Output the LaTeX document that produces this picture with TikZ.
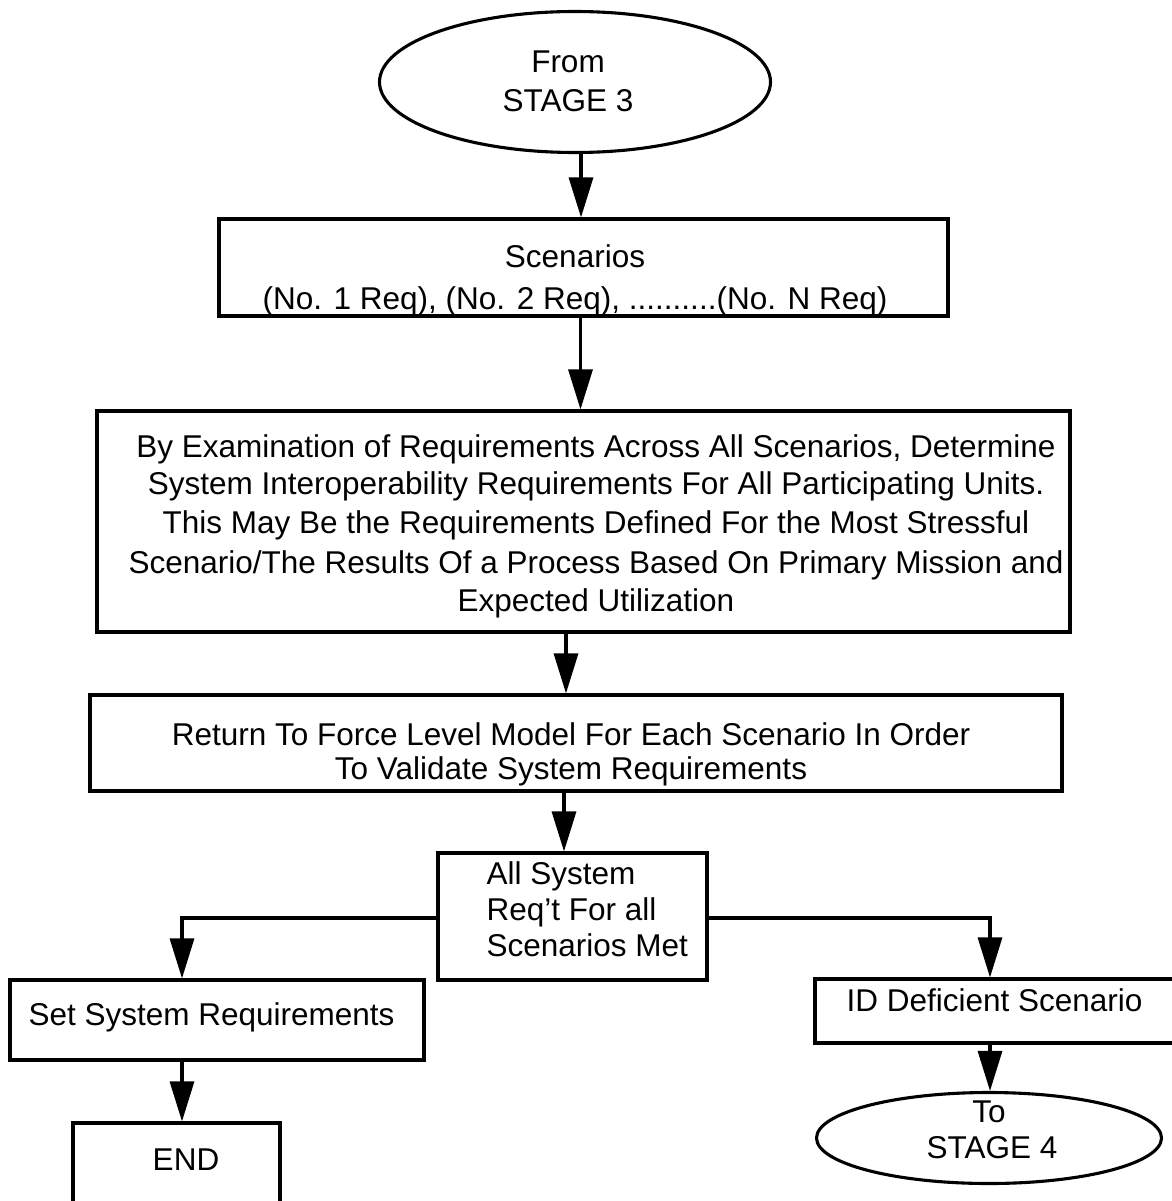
\documentclass[tikz,border=0pt]{standalone}
\usepackage{fontspec}
\setmainfont{Liberation Sans}
\usetikzlibrary{arrows.meta,shapes.geometric}

\begin{document}
\begin{tikzpicture}[x=1pt,y=-1pt,
  line width=3.1pt,
  box/.style={draw, rectangle, inner sep=0pt},
  term/.style={draw, ellipse, inner sep=0pt},
  txt/.style={inner sep=0pt, anchor=base, font=\fontsize{31.5}{38}\selectfont},
  txtl/.style={txt, anchor=base west},
  arr/.style={-{Triangle[length=40pt,width=24pt]}}]
\useasboundingbox (0,0) rectangle (1171,1201);

% terminals
\node[term, minimum width=391pt, minimum height=141pt] (start) at (575,82) {};
\node[txt] (start-1) at (568,73) {From};
\node[txt] (start-2) at (568,112) {STAGE 3};

\node[term, minimum width=345pt, minimum height=91pt] (st4) at (989,1138) {};
\node[txt] (st4-1) at (989,1122) {To};
\node[txt] (st4-2) at (992,1158) {STAGE 4};

% process boxes
\node[box, minimum width=729pt, minimum height=97pt] (scen) at (583.5,267.5) {};
\node[txt] (scen-1) at (575,267) {Scenarios};
\node[txt] (scen-2) at (575,309) {(No. 1 Req), (No. 2 Req), ..........(No. N Req)};

\node[box, minimum width=973pt, minimum height=221pt] (exam) at (583.5,521.5) {};
\node[txt] (exam-1) at (596,457) {By Examination of Requirements Across All Scenarios, Determine};
\node[txt] (exam-2) at (596,494) {System Interoperability Requirements For All Participating Units.};
\node[txt] (exam-3) at (596,533) {This May Be the Requirements Defined For the Most Stressful};
\node[txt] (exam-4) at (596,573) {Scenario/The Results Of a Process Based On Primary Mission and};
\node[txt] (exam-5) at (596,611) {Expected Utilization};

\node[box, minimum width=972pt, minimum height=96pt] (ret) at (576,743) {};
\node[txt] (ret-1) at (571,745) {Return To Force Level Model For Each Scenario In Order};
\node[txt] (ret-2) at (571,779) {To Validate System Requirements};

\node[box, minimum width=269pt, minimum height=127pt] (dec) at (572.5,916.5) {};
\node[txtl] (dec-1) at (485,884) {All System};
\node[txtl] (dec-2) at (485,920) {Req't For all};
\node[txtl] (dec-3) at (485,956) {Scenarios Met};

\node[box, minimum width=414pt, minimum height=80pt] (set) at (217,1020) {};
\node[txtl] (set-1) at (27,1025) {Set System Requirements};

\node[box, minimum width=207pt, minimum height=90pt] (endb) at (176.5,1168) {};
\node[txt] (endb-1) at (186,1170) {END};

\node[box, minimum width=361pt, minimum height=64pt] (idb) at (995.5,1011) {};
\node[txt] (idb-1) at (994.5,1011) {ID Deficient Scenario};

% connectors
\draw[arr] ([xshift=6pt]start.south) -- ([xshift=6pt]start.south |- scen.north);
\draw[arr] ([xshift=-3pt]scen.south) -- ([xshift=-3pt]scen.south |- exam.north);
\draw[arr] ([xshift=-17.5pt]exam.south) -- ([xshift=-17.5pt]exam.south |- ret.north);
\draw[arr] ([xshift=-12pt]ret.south) -- ([xshift=-12pt]ret.south |- dec.north);
\draw[arr] ([yshift=-1.5pt]dec.west) -| ([xshift=-35pt]set.north);
\draw[arr] ([yshift=-1.5pt]dec.east) -| ([xshift=-5.5pt]idb.north);
\draw[arr] ([xshift=-35pt]set.south) -- ([xshift=-35pt]set.south |- endb.north);
\draw[arr] ([xshift=-5.5pt]idb.south) -- ([xshift=-5.5pt]idb.south |- st4.north);
\end{tikzpicture}
\end{document}
